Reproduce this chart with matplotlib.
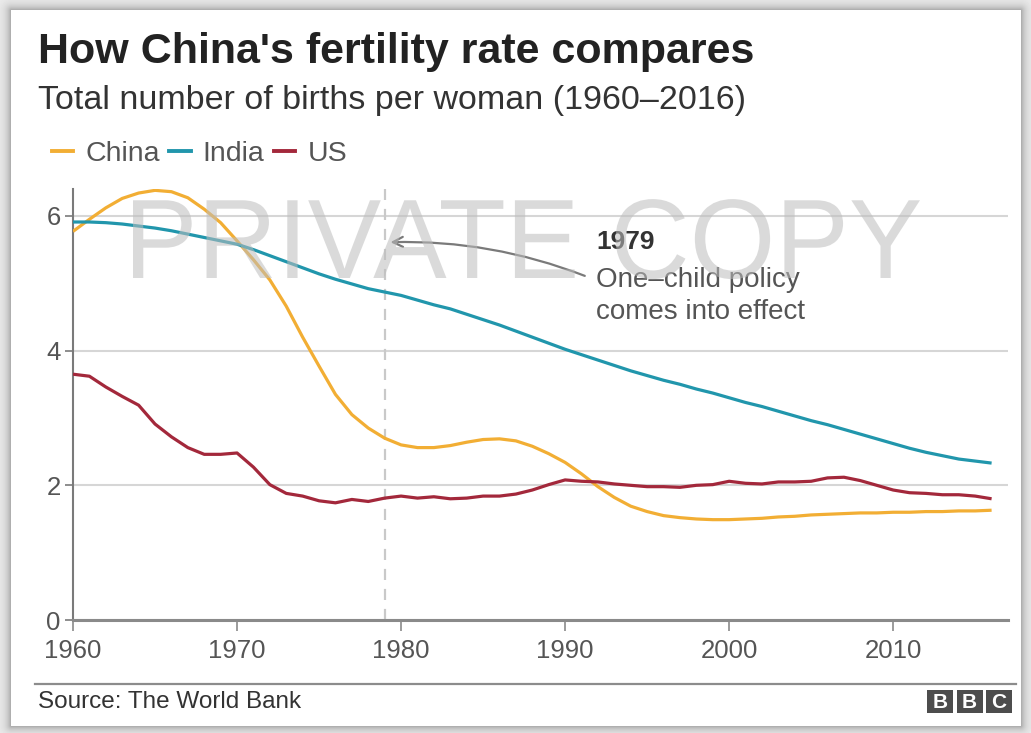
import numpy as np
import matplotlib.pyplot as plt
from matplotlib.patches import Rectangle, PathPatch
from matplotlib.lines import Line2D
from matplotlib.textpath import TextPath
from matplotlib.font_manager import FontProperties
from matplotlib.transforms import Affine2D

# Total fertility rate, births per woman
years = list(range(1960, 2017))
china = [5.77, 5.95, 6.12, 6.26, 6.34, 6.38, 6.36, 6.27, 6.10, 5.90,
         5.63, 5.35, 5.05, 4.66, 4.20, 3.77, 3.35, 3.05, 2.85, 2.70,
         2.60, 2.56, 2.56, 2.59, 2.64, 2.68, 2.69, 2.66, 2.58, 2.47,
         2.34, 2.17, 1.98, 1.82, 1.69, 1.61, 1.55, 1.52, 1.50, 1.49,
         1.49, 1.50, 1.51, 1.53, 1.54, 1.56, 1.57, 1.58, 1.59, 1.59,
         1.60, 1.60, 1.61, 1.61, 1.62, 1.62, 1.63]
india = [5.91, 5.91, 5.90, 5.88, 5.85, 5.82, 5.78, 5.73, 5.68, 5.63,
         5.58, 5.50, 5.41, 5.32, 5.23, 5.14, 5.06, 4.99, 4.92, 4.87,
         4.82, 4.75, 4.68, 4.62, 4.54, 4.46, 4.38, 4.29, 4.20, 4.11,
         4.02, 3.94, 3.86, 3.78, 3.70, 3.63, 3.56, 3.50, 3.43, 3.37,
         3.30, 3.23, 3.17, 3.10, 3.03, 2.96, 2.90, 2.83, 2.76, 2.69,
         2.62, 2.55, 2.49, 2.44, 2.39, 2.36, 2.33]
us = [3.65, 3.62, 3.46, 3.32, 3.19, 2.91, 2.72, 2.56, 2.46, 2.46,
      2.48, 2.27, 2.01, 1.88, 1.84, 1.77, 1.74, 1.79, 1.76, 1.81,
      1.84, 1.81, 1.83, 1.80, 1.81, 1.84, 1.84, 1.87, 1.93, 2.01,
      2.08, 2.06, 2.05, 2.02, 2.00, 1.98, 1.98, 1.97, 2.00, 2.01,
      2.06, 2.03, 2.02, 2.05, 2.05, 2.06, 2.11, 2.12, 2.07, 2.00,
      1.93, 1.89, 1.88, 1.86, 1.86, 1.84, 1.80]

series_names = ["China", "India", "US"]
series_colors = ["#F2AE34", "#2196AC", "#A3283B"]

policy_year = 1979
x_ticks = [1960, 1970, 1980, 1990, 2000, 2010]
y_ticks = [0, 2, 4, 6]

W, H = 1031, 733
plt.rcParams["font.family"] = ["Liberation Sans", "DejaVu Sans"]

fig = plt.figure(figsize=(W / 100, H / 100), dpi=100)
fig.patch.set_facecolor("#ececec")

# white card with a soft drop shadow around it
bg = fig.add_axes([0, 0, 1, 1], zorder=-10)
yy, xx = np.mgrid[0:H, 0:W]
cx0, cy0, cx1, cy1 = 11, 10, 1020, 725
dx = np.maximum(np.maximum(cx0 - xx, xx - cx1), 0)
dy = np.maximum(np.maximum(cy0 - yy, yy - cy1), 0)
dist = np.hypot(dx, dy)
shade = 0.93 - 0.30 * np.exp(-dist / 5.0)
shade[dist == 0] = 1.0
bg.imshow(shade, cmap="gray", vmin=0, vmax=1, extent=(0, W, H, 0),
          interpolation="bilinear", aspect="auto")
bg.set_xlim(0, W)
bg.set_ylim(H, 0)
bg.axis("off")

# plotting area
left, right, top, bottom = 73, 1008, 189, 620
ax = fig.add_axes([left / W, 1 - bottom / H, (right - left) / W, (bottom - top) / H])
ax.set_facecolor("none")

for vals, name, col in zip([china, india, us], series_names, series_colors):
    ax.plot(years, vals, color=col, lw=2.3, label=name, zorder=4,
            solid_capstyle="butt")

ax.axvline(policy_year, color="#c9c9c9", lw=1.6, ls=(0, (5, 4)), zorder=2)

ax.set_xlim(1960, 2017)
ax.set_ylim(0, 6.4)
ax.set_xticks(x_ticks)
ax.set_yticks(y_ticks)
ax.yaxis.grid(True, color="#d6d6d6", lw=1.5, zorder=1)
ax.set_axisbelow(True)

for side in ["top", "right"]:
    ax.spines[side].set_visible(False)
ax.spines["left"].set_color("#7a7a7a")
ax.spines["left"].set_linewidth(1.5)
ax.spines["bottom"].set_color("#8a8a8a")
ax.spines["bottom"].set_linewidth(2.2)
ax.spines["bottom"].set_zorder(3)

ax.tick_params(axis="x", colors="#8a8a8a", length=8, width=1.2, pad=6,
               labelcolor="#555555", labelsize=18.5)
ax.tick_params(axis="y", colors="#7a7a7a", length=6, width=1.2, pad=3,
               labelcolor="#555555", labelsize=18.5)

# one-child policy annotation
ax.annotate("", xy=(1979.35, 5.61), xytext=(1991.2, 5.11),
            arrowprops=dict(arrowstyle="->", color="#7a7a7a", lw=1.6,
                            connectionstyle="arc3,rad=0.1",
                            shrinkA=0, shrinkB=0, mutation_scale=18),
            zorder=5)
ax.text(1991.9, 5.61, "1979", fontsize=19, fontweight="bold",
        color="#333333", va="center", ha="left")
ax.text(1991.9, 5.05, "One\u2013child policy", fontsize=20,
        color="#555555", va="center", ha="left")
ax.text(1991.9, 4.58, "comes into effect", fontsize=20,
        color="#555555", va="center", ha="left")

# headings
fig.text(38 / W, 1 - 63 / H, "How China's fertility rate compares",
         fontsize=31, fontweight="bold", color="#222222", va="baseline")
fig.text(38 / W, 1 - 109 / H, "Total number of births per woman (1960\u20132016)",
         fontsize=24.5, color="#333333", va="baseline")

# legend row
handles = [Line2D([], [], color=c, lw=2.8) for c in series_colors]
fig.legend(handles, series_names, loc="center left",
           bbox_to_anchor=(52 / W, 1 - 154 / H), ncol=3, frameon=False,
           fontsize=20.5, handlelength=0.74, handletextpad=0.42,
           columnspacing=0.35, borderpad=0, borderaxespad=0,
           labelcolor="#555555")

# footer
fig.add_artist(Line2D([35 / W, 1016 / W], [1 - 684 / H, 1 - 684 / H],
                      color="#8c8c8c", lw=1.6))
fig.text(38 / W, 1 - 702 / H, "Source: The World Bank", fontsize=17.5,
         color="#333333", va="center")

for i, letter in enumerate("BBC"):
    x0 = 927 + i * 29.5
    fig.add_artist(Rectangle((x0 / W, 1 - 713 / H), 26 / W, 23 / H,
                             transform=fig.transFigure, color="#4d4d4d", lw=0))
    fig.text((x0 + 13) / W, 1 - 702 / H, letter, fontsize=15,
             fontweight="bold", color="white", ha="center", va="center")

# watermark, slightly condensed horizontally
wm = TextPath((0, 0), "PRIVATE COPY", size=113,
              prop=FontProperties(family="Liberation Sans"))
ext = wm.get_extents()
sx = 787 / ext.width
wm_tr = (Affine2D().translate(-ext.x0, 0).scale(sx / 100, 1 / 100)
         .translate(133 / 100, (H - 278) / 100) + fig.dpi_scale_trans)
fig.add_artist(PathPatch(wm, transform=wm_tr, facecolor="#bdbdbd",
                         edgecolor="none", alpha=0.55, zorder=20))

fig.savefig("out.png", dpi=100, facecolor=fig.get_facecolor())
